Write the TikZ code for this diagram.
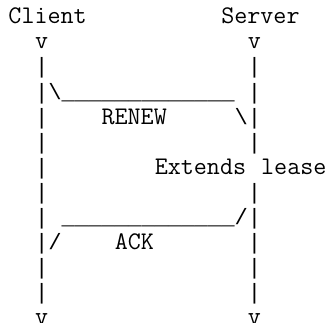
\documentclass[tikz,border=0pt]{standalone}
\usepackage{fontspec}
\newfontfamily\symfont{Liberation Mono}
\newcommand{\us}{\_\_\_\_\_\_\_\_\_\_\_\_\_}
\begin{document}
\begin{tikzpicture}[x=1pt,y=1pt,
  txt/.style={inner sep=0pt, outer sep=0pt, anchor=base west,
    font=\ttfamily\fontsize{25.33}{25}\selectfont},
  sym/.style={inner sep=0pt, outer sep=0pt, anchor=base west,
    font=\symfont\fontsize{22.17}{25}\selectfont}]
\useasboundingbox (0,0) rectangle (329,322);
% column c -> x = 8.5 + 13.3*c ; row r -> y = 322 - 24 - 25*(r-1)
\def\X#1{8.5+13.3*#1}
\def\Y#1{298-25*(#1-1)}
% row 1
\node[txt] (client) at ({\X{0}},{\Y{1}}) {Client};
\node[txt] (server) at ({\X{16}},{\Y{1}}) {Server};
% row 2
\node[txt] (cv1) at ({\X{2}},{\Y{2}}) {v};
\node[txt] (sv1) at ({\X{18}},{\Y{2}}) {v};
% row 3
\node[sym] (c3) at ({\X{2}},{\Y{3}}) {|};
\node[sym] (s3) at ({\X{18}},{\Y{3}}) {|};
% row 4
\node[sym] (c4) at ({\X{2}},{\Y{4}}) {|\textbackslash\us};
\node[sym] (s4) at ({\X{18}},{\Y{4}}) {|};
% row 5
\node[sym] (c5) at ({\X{2}},{\Y{5}}) {|};
\node[txt] (renew) at ({\X{7}},{\Y{5}}) {RENEW};
\node[sym] (s5) at ({\X{17}},{\Y{5}}) {\textbackslash|};
% row 6
\node[sym] (c6) at ({\X{2}},{\Y{6}}) {|};
\node[sym] (s6) at ({\X{18}},{\Y{6}}) {|};
% row 7
\node[sym] (c7) at ({\X{2}},{\Y{7}}) {|};
\node[txt] (ext) at ({\X{11}},{\Y{7}}) {Extends};
\node[txt] (lease) at ({\X{19}},{\Y{7}}) {lease};
% row 8
\node[sym] (c8) at ({\X{2}},{\Y{8}}) {|};
\node[sym] (s8) at ({\X{18}},{\Y{8}}) {|};
% row 9
\node[sym] (c9) at ({\X{2}},{\Y{9}}) {|};
\node[sym] (s9) at ({\X{4}},{\Y{9}}) {\us/|};
% row 10
\node[sym] (c10) at ({\X{2}},{\Y{10}}) {|/};
\node[txt] (ack) at ({\X{8}},{\Y{10}}) {ACK};
\node[sym] (s10) at ({\X{18}},{\Y{10}}) {|};
% row 11
\node[sym] (c11) at ({\X{2}},{\Y{11}}) {|};
\node[sym] (s11) at ({\X{18}},{\Y{11}}) {|};
% row 12
\node[sym] (c12) at ({\X{2}},{\Y{12}}) {|};
\node[sym] (s12) at ({\X{18}},{\Y{12}}) {|};
% row 13
\node[txt] (cv2) at ({\X{2}},{\Y{13}}) {v};
\node[txt] (sv2) at ({\X{18}},{\Y{13}}) {v};
\end{tikzpicture}
\end{document}
